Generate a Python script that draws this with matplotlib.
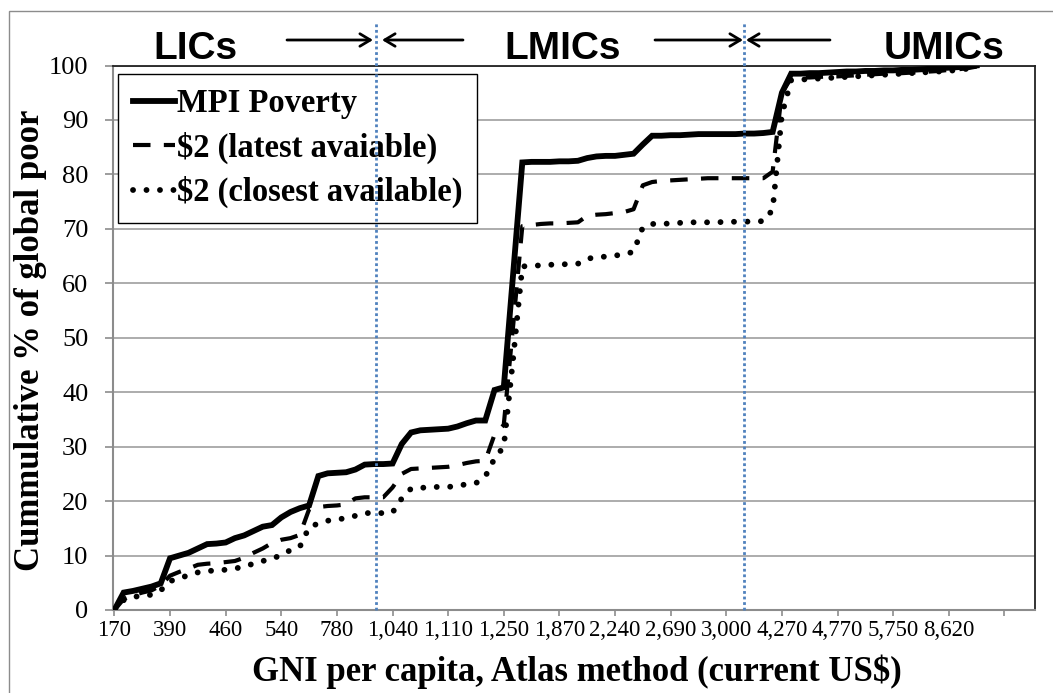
import matplotlib
matplotlib.use("Agg")
import matplotlib.pyplot as plt
from matplotlib.patches import Rectangle
import numpy as np

# tick labels shown on the category axis (every 6th country)
gni_labels = ['170', '390', '460', '540', '780', '1,040', '1,110', '1,250',
              '1,870', '2,240', '2,690', '3,000', '4,270', '4,770', '5,750',
              '8,620']

# cumulative % of global poor, countries sorted by GNI per capita
mpi_poverty = [0, 3.2, 3.5, 3.9, 4.3, 4.9, 9.5, 10.0, 10.5, 11.3,
               12.1, 12.2, 12.4, 13.2, 13.7, 14.5, 15.3, 15.6, 17.0, 18.0,
               18.7, 19.2, 24.6, 25.1, 25.2, 25.3, 25.8, 26.7, 26.8, 26.8,
               26.9, 30.5, 32.6, 33.0, 33.1, 33.2, 33.3, 33.7, 34.3, 34.8,
               34.8, 40.4, 40.9, 61.5, 82.2, 82.3, 82.3, 82.3, 82.4, 82.4,
               82.5, 83.0, 83.3, 83.4, 83.4, 83.6, 83.8, 85.5, 87.1, 87.1,
               87.2, 87.2, 87.3, 87.4, 87.4, 87.4, 87.4, 87.4, 87.5, 87.5,
               87.6, 87.8, 95.0, 98.5, 98.5, 98.6, 98.6, 98.7, 98.8, 98.9,
               98.9, 99.0, 99.0, 99.1, 99.1, 99.2, 99.2, 99.3, 99.4, 99.5,
               99.6, 99.7, 99.8, 100.0]

usd2_latest = [0, 2.0, 2.7, 3.2, 3.6, 4.5, 6.3, 7.0, 7.6, 8.3,
               8.5, 8.6, 8.8, 9.0, 9.6, 10.5, 11.3, 12.3, 12.9, 13.2,
               13.8, 18.5, 18.9, 19.1, 19.2, 19.4, 20.5, 20.7, 20.7, 20.7,
               22.5, 25.0, 25.9, 26.0, 26.1, 26.2, 26.3, 26.6, 27.0, 27.3,
               27.4, 32.2, 34.0, 52.0, 70.5, 70.7, 70.9, 71.0, 71.0, 71.1,
               71.2, 72.4, 72.6, 72.7, 72.9, 73.1, 73.6, 78.0, 78.6, 78.8,
               78.9, 79.0, 79.1, 79.2, 79.3, 79.3, 79.3, 79.3, 79.3, 79.3,
               79.3, 80.5, 95.0, 97.7, 97.8, 97.8, 97.9, 98.0, 98.0, 98.1,
               98.2, 98.3, 98.4, 98.5, 98.5, 98.6, 98.7, 98.8, 98.9, 99.0,
               99.2, 99.3, 99.5, 99.8]

usd2_closest = [0, 1.8, 2.4, 2.6, 2.8, 3.6, 5.3, 5.8, 6.4, 6.9,
                7.2, 7.2, 7.4, 7.6, 8.0, 8.5, 9.0, 9.4, 10.1, 11.0,
                11.6, 15.2, 15.9, 16.4, 16.6, 16.9, 17.3, 17.8, 17.8, 17.8,
                17.9, 20.5, 22.3, 22.4, 22.6, 22.6, 22.6, 22.8, 23.1, 23.3,
                24.5, 27.8, 30.0, 46.0, 63.1, 63.2, 63.3, 63.4, 63.5, 63.5,
                63.6, 64.5, 64.8, 64.9, 65.1, 65.3, 65.8, 70.3, 70.9, 70.9,
                71.0, 71.1, 71.2, 71.2, 71.2, 71.2, 71.3, 71.3, 71.3, 71.4,
                71.4, 73.5, 91.0, 97.3, 97.4, 97.5, 97.6, 97.7, 97.8, 97.9,
                98.0, 98.1, 98.2, 98.3, 98.4, 98.5, 98.6, 98.7, 98.8, 98.9,
                99.0, 99.2, 99.4, 99.6]

# income group thresholds (category position) and group names
thresholds = [28.2, 67.9]
groups = ['LICs', 'LMICs', 'UMICs']

W, H = 1053, 693


def main():
    serif = 'Liberation Serif'
    fig = plt.figure(figsize=(W / 100, H / 100), dpi=100)
    ax = fig.add_axes([113 / W, 1 - 610 / H, 922 / W, 544.5 / H])

    x = np.arange(len(mpi_poverty))
    ax.plot(x, mpi_poverty, color='black', lw=4.2, solid_joinstyle='miter',
            label='MPI Poverty', zorder=4)
    ax.plot(x, usd2_latest, color='black', lw=3.0, ls=(0, (4.2, 3.2)),
            label='$2 (latest avaiable)', zorder=3)
    ax.plot(x, usd2_closest, color='black', lw=4.2, ls=(0, (0.01, 2.3)),
            dash_capstyle='round', label='$2 (closest available)', zorder=3)

    # axes, ticks, grid
    ax.set_xlim(-0.15, 99.3)
    ax.set_ylim(0, 100)
    ax.set_yticks(np.arange(0, 101, 10))
    ax.set_xticks(np.arange(0, 97, 6))
    ax.set_xticklabels(gni_labels + [''])
    ax.yaxis.grid(True, color='#a6a6a6', lw=1.3)
    ax.set_axisbelow(True)
    for s in ['left', 'bottom']:
        ax.spines[s].set_color('#8c8c8c')
        ax.spines[s].set_linewidth(1.5)
    for s in ['top', 'right']:
        ax.spines[s].set_color('#222222')
        ax.spines[s].set_linewidth(1.3)
    ax.tick_params(axis='y', length=5.8, width=1.2, color='#8c8c8c', pad=12,
                   labelsize=19)
    ax.tick_params(axis='x', length=4.3, width=1.2, color='#8c8c8c', pad=3,
                   labelsize=16.5)
    for t in ax.get_xticklabels() + ax.get_yticklabels():
        t.set_fontfamily(serif)

    # legend
    leg = ax.legend(loc='upper left', bbox_to_anchor=(5 / 922, 1 - 8 / 544.5),
                    borderaxespad=0,
                    prop={'family': serif, 'weight': 'bold', 'size': 23.5},
                    handlelength=1.3, handletextpad=0.05, labelspacing=0.38,
                    borderpad=0.45, fancybox=False, framealpha=1,
                    edgecolor='black')
    leg.get_frame().set_linewidth(1.0)
    leg.set_zorder(5)

    # blue threshold lines going up between the arrows
    for t in thresholds:
        ax.plot([t, t], [0, 108], color='#4f81bd', lw=2, ls=(0, (1, 1)),
                clip_on=False, zorder=10)

    # group names and arrows on top
    for name, cx in zip(groups, [195, 563, 944]):
        fig.text(cx / W, 1 - 59 / H, name, ha='center', va='baseline',
                 fontsize=28, fontweight='bold', family='Liberation Sans')
    arrows = [(287, 373), (463, 382), (655, 743), (830, 746)]
    for x0, x1 in arrows:
        ax.annotate('', xy=(x1, H - 40), xytext=(x0, H - 40),
                    xycoords='figure pixels', textcoords='figure pixels',
                    arrowprops=dict(arrowstyle='->,head_length=0.5,head_width=0.3',
                                    lw=2, color='black', mutation_scale=15,
                                    shrinkA=0, shrinkB=0))

    fig.text(31 / W, 1 - 340 / H, 'Cummulative % of global poor', rotation=90,
             ha='center', va='center', fontsize=25, fontweight='bold',
             family=serif)
    fig.text(577 / W, 1 - 672 / H, 'GNI per capita, Atlas method (current US$)',
             ha='center', va='center', fontsize=25, fontweight='bold',
             family=serif)

    # outer chart frame
    fig.patches.append(Rectangle((9 / W, -0.05), 1.1, (H - 11) / H + 0.05,
                                 transform=fig.transFigure, fill=False,
                                 edgecolor='#8c8c8c', lw=1))

    plt.savefig('out.png', dpi=100)


if __name__ == "__main__":
    main()
